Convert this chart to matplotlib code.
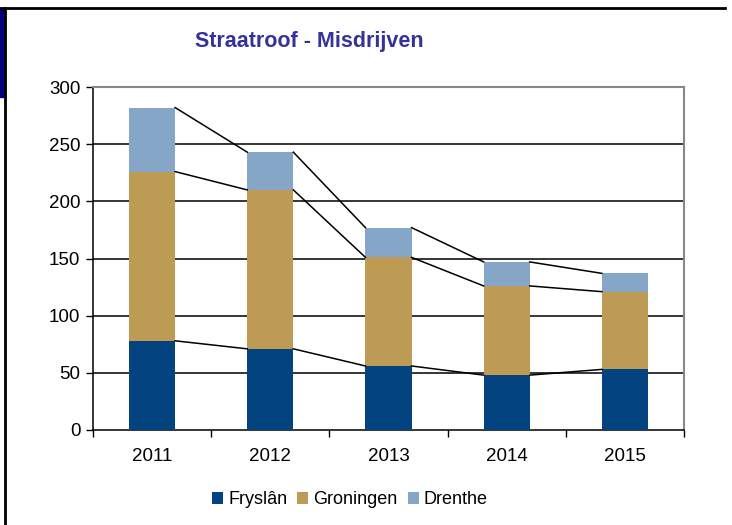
import matplotlib
matplotlib.use("Agg")
import matplotlib.pyplot as plt
from matplotlib.patches import Rectangle
from matplotlib.lines import Line2D
import numpy as np

plt.rcParams['font.family'] = ['Liberation Sans', 'DejaVu Sans']

years = ["2011", "2012", "2013", "2014", "2015"]
series_names = ["Fryslân", "Groningen", "Drenthe"]
fryslan = [78, 71, 56, 48, 53]
groningen = [148, 139, 95, 78, 68]
drenthe = [56, 33, 26, 21, 16]
colors = ["#03437f", "#bd9b55", "#86a6c7"]

fig = plt.figure(figsize=(7.32, 5.25), dpi=100)
ax = fig.add_axes([93/732, 95/525, (684-93)/732, (430-87)/525])

x = np.arange(len(years))
w = 0.39
bottom = np.zeros(len(years))
tops = []
for vals, name, c in zip([fryslan, groningen, drenthe], series_names, colors):
    v = np.array(vals, dtype=float)
    ax.bar(x, v, w, bottom=bottom, color=c, label=name, zorder=3, edgecolor='none')
    bottom = bottom + v
    tops.append(bottom.copy())

for t in tops:
    for i in range(len(years) - 1):
        ax.plot([x[i] + w/2, x[i+1] - w/2], [t[i], t[i+1]], color='black', lw=1.1, zorder=4)

ax.set_xlim(-0.5, len(years) - 0.5)
ax.set_ylim(0, 300)
ax.set_yticks(range(0, 301, 50))
for yv in range(50, 300, 50):
    ax.axhline(yv, color='black', lw=1.1, zorder=1)

ax.set_xticks(np.arange(-0.5, len(years), 1.0))
ax.set_xticklabels([])
ax.set_xticks(x, minor=True)
ax.set_xticklabels(years, minor=True)
ax.tick_params(axis='x', which='major', direction='out', length=5, width=1, colors='black')
ax.tick_params(axis='x', which='minor', length=0, labelsize=13.5, pad=13)
ax.tick_params(axis='y', direction='out', length=5, width=1, labelsize=13.5, pad=4)

ax.spines['left'].set_color('black')
ax.spines['bottom'].set_color('black')
ax.spines['left'].set_linewidth(1.1)
ax.spines['bottom'].set_linewidth(1.1)
ax.spines['top'].set_color('#888888')
ax.spines['right'].set_color('#888888')
ax.spines['top'].set_linewidth(1.5)
ax.spines['right'].set_linewidth(1.5)

fig.text(309/732, 1 - 41/525, "Straatroof - Misdrijven", ha='center', va='center',
         fontsize=15.5, fontweight='bold', color='#333399')

leg = fig.legend(loc='center', bbox_to_anchor=(350/732, 25/525), ncol=3, frameon=False,
                 fontsize=13, handlelength=0.6, handleheight=0.6, handletextpad=0.3,
                 columnspacing=0.55)

# screenshot frame decorations
fig.add_artist(Line2D([0, 725/732], [1 - 8/525, 1 - 8/525], color='black', lw=2, transform=fig.transFigure))
fig.add_artist(Line2D([5/732, 5/732], [0, 1 - 8/525], color='black', lw=2, transform=fig.transFigure))
fig.add_artist(Rectangle((0, 1 - 97/525), 5/732, 89/525, color='#000080', transform=fig.transFigure))

fig.savefig("out.png", dpi=100)
